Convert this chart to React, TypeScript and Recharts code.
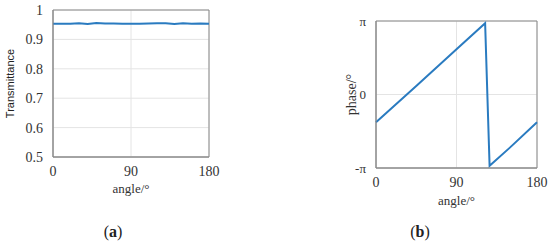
import { LineChart, Line, XAxis, YAxis, CartesianGrid, ReferenceArea } from "recharts"

// (a) transmittance vs angle
const transAngles = [0, 10, 20, 30, 40, 50, 60, 70, 80, 90, 100, 110, 120, 130, 140, 150, 160, 170, 180]
const transValues = [0.953, 0.953, 0.953, 0.955, 0.952, 0.956, 0.954, 0.954, 0.953, 0.953, 0.953, 0.954, 0.955, 0.955, 0.952, 0.955, 0.953, 0.954, 0.953]
const transTicks = [0.5, 0.6, 0.7, 0.8, 0.9, 1]

// (b) phase vs angle (radians)
const phaseAngles = [0, 45, 90, 122, 127, 150, 180]
const phaseValues = [-1.19, 0.36, 1.93, 3.05, -3.05, -2.26, -1.19]
const phaseTicks = [-Math.PI, 0, Math.PI]

const angleTicks = [0, 90, 180]

const transData = transAngles.map((a, i) => ({ angle: a, value: transValues[i] }))
const phaseData = phaseAngles.map((a, i) => ({ angle: a, value: phaseValues[i] }))

const BLUE = "#2a7bc0"
const AXIS = "#8a8a8a"
const GRID = "#e4e4e4"
const SERIF = "Liberation Serif, serif"
const tickStyle = { fill: "#333", fontSize: 14, fontFamily: SERIF }

const phaseLabel = (v: number) => (v > 0.1 ? "π" : v < -0.1 ? "-π" : "0")

export default function App() {
  return (
    <div style={{ position: "absolute", left: 0, top: 0, width: 550, height: 244, background: "#fff" }}>
      <div style={{ position: "absolute", left: 0, top: 0 }}>
        <LineChart width={275} height={200} data={transData} margin={{ top: 10, right: 66, left: 0, bottom: 0 }}>
          <CartesianGrid stroke={GRID} horizontalValues={transTicks} verticalValues={angleTicks} />
          <XAxis
            dataKey="angle"
            type="number"
            domain={[0, 180]}
            ticks={angleTicks}
            height={43}
            tick={tickStyle}
            tickLine={false}
            tickMargin={3}
            stroke={AXIS}
            label={{ value: "angle/°", position: "insideBottom", offset: 7, style: { fill: "#333", fontSize: 13, fontFamily: SERIF } }}
          />
          <YAxis
            type="number"
            domain={[0.5, 1]}
            ticks={transTicks}
            width={53}
            tick={tickStyle}
            tickLine={false}
            tickMargin={4}
            stroke={AXIS}
            tickFormatter={(v: number) => (v === 1 ? "1" : String(v))}
            label={{ value: "Transmittance", angle: -90, position: "insideLeft", offset: 10, style: { textAnchor: "middle", fill: "#222", fontSize: 11, fontFamily: "Liberation Sans, sans-serif" } }}
          />
          <ReferenceArea x1={0} x2={180} y1={0.5} y2={1} fill="none" stroke={AXIS} />
          <Line type="linear" dataKey="value" stroke={BLUE} strokeWidth={2} dot={false} isAnimationActive={false} />
        </LineChart>
      </div>
      <div style={{ position: "absolute", left: 275, top: 0 }}>
        <LineChart width={275} height={214} data={phaseData} margin={{ top: 21, right: 13, left: 0, bottom: 0 }}>
          <CartesianGrid stroke={GRID} horizontalValues={phaseTicks} verticalValues={angleTicks} />
          <XAxis
            dataKey="angle"
            type="number"
            domain={[0, 180]}
            ticks={angleTicks}
            height={46}
            tick={tickStyle}
            tickLine={false}
            tickMargin={3}
            stroke={AXIS}
            label={{ value: "angle/°", position: "insideBottom", offset: 9, style: { fill: "#333", fontSize: 13, fontFamily: SERIF } }}
          />
          <YAxis
            type="number"
            domain={[-Math.PI, Math.PI]}
            ticks={phaseTicks}
            width={101}
            tick={{ ...tickStyle, fontSize: 13 }}
            tickLine={false}
            tickMargin={4}
            stroke={AXIS}
            tickFormatter={phaseLabel}
            label={{ value: "phase/°", angle: -90, position: "insideLeft", offset: 76, style: { textAnchor: "middle", fill: "#333", fontSize: 14, fontFamily: SERIF } }}
          />
          <ReferenceArea x1={0} x2={180} y1={-Math.PI} y2={Math.PI} fill="none" stroke={AXIS} />
          <Line type="linear" dataKey="value" stroke={BLUE} strokeWidth={2} dot={false} isAnimationActive={false} />
        </LineChart>
      </div>
      <div style={{ position: "absolute", left: 98, top: 223, width: 30, textAlign: "center", fontFamily: SERIF, fontSize: 16, color: "#222" }}>
        (<b>a</b>)
      </div>
      <div style={{ position: "absolute", left: 405, top: 223, width: 30, textAlign: "center", fontFamily: SERIF, fontSize: 16, color: "#222" }}>
        (<b>b</b>)
      </div>
    </div>
  )
}
